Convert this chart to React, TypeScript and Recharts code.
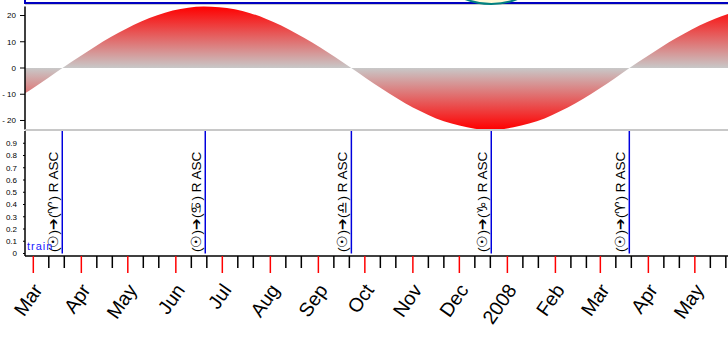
import React from "react";
import {
  AreaChart,
  Area,
  ComposedChart,
  ScatterChart,
  Scatter,
  XAxis,
  YAxis,
  ReferenceLine,
} from "recharts";

// x values are days counted from 2007-03-01
const DOMAIN: [number, number] = [-5.36, 448.4];

// solar declination (deg), every 10 days
const declDays = [
  -10, 0, 10, 20, 30, 40, 50, 60, 70, 80, 90, 100, 110, 120, 130, 140, 150, 160,
  170, 180, 190, 200, 210, 220, 230, 240, 250, 260, 270, 280, 290, 300, 310, 320,
  330, 340, 350, 360, 370, 380, 390, 400, 410, 420, 430, 440, 450, 460,
];
const declValues = [
  -11.3, -7.6, -3.6, 0.5, 4.4, 8.2, 11.8, 15.0, 17.8, 20.1, 21.9, 23.0, 23.4,
  23.2, 22.4, 20.9, 18.8, 16.2, 13.1, 9.7, 6.0, 2.1, -1.9, -6.0, -9.8, -13.4,
  -16.5, -19.2, -21.2, -22.6, -23.4, -23.4, -22.6, -21.2, -19.2, -16.5, -13.4,
  -9.9, -6.1, -2.0, 2.1, 5.9, 9.7, 13.1, 16.2, 18.8, 20.9, 22.4,
];

// month starts (red ticks) and the 11th / 21st of each month (black ticks)
const monthDays = [0, 31, 61, 92, 122, 153, 184, 214, 245, 275, 306, 337, 366, 397, 427];
const monthLabels = [
  "Mar", "Apr", "May", "Jun", "Jul", "Aug", "Sep", "Oct", "Nov", "Dec",
  "2008", "Feb", "Mar", "Apr", "May",
];
const minorDays = [
  10, 20, 41, 51, 71, 81, 102, 112, 132, 142, 163, 173, 194, 204, 224, 234,
  255, 265, 285, 295, 316, 326, 347, 357, 376, 386, 407, 417, 437, 447,
];

// sun entering the cardinal signs
const eventDays = [18.7, 111.0, 205.3, 295.6, 384.7];
const eventSigns = ["\u2648", "\u264B", "\u264E", "\u2651", "\u2648"];

const upperTicks = [-20, -10, 0, 10, 20];
const lowerTicks = [0, 0.1, 0.2, 0.3, 0.4, 0.5, 0.6, 0.7, 0.8, 0.9];

const declData = declDays.map((d, i) => ({ day: d, decl: declValues[i] }));
const events = eventDays.map((d, i) => ({ day: d, sign: eventSigns[i], v: 0 }));
const topMarker = [{ day: eventDays[3], y: 1 }];

const FONT = "'Liberation Sans', Arial, sans-serif";

function MonthTick(props: any) {
  const { x, y, payload } = props;
  const idx = monthDays.indexOf(payload.value);
  const major = idx >= 0;
  const lx = x + 10;
  const ly = y + 34;
  return (
    <g>
      <line
        x1={x}
        y1={y}
        x2={x}
        y2={y + (major ? 17 : 12)}
        stroke={major ? "#ff0000" : "#000"}
        strokeWidth={1.5}
      />
      {major && (
        <text
          x={lx}
          y={ly}
          textAnchor="end"
          fontSize={19.5}
          fontFamily={FONT}
          fill="#000"
          transform={`rotate(-55 ${lx} ${ly})`}
        >
          {monthLabels[idx]}
        </text>
      )}
    </g>
  );
}

function EventLabel(props: any) {
  const { viewBox, sign } = props;
  if (!viewBox) return null;
  const bx = viewBox.x - 4.5;
  const by = viewBox.y + viewBox.height - 1.5;
  return (
    <text
      x={bx}
      y={by}
      fontSize={13.5}
      fontFamily={FONT}
      fill="#000"
      textAnchor="start"
      transform={`rotate(-90 ${bx} ${by})`}
    >
      {`(\u2609\uFE0E)\u2794(${sign}\uFE0E) R ASC`}
    </text>
  );
}

export default function App() {
  return (
    <div
      style={{
        position: "absolute",
        left: 0,
        top: 0,
        width: 728,
        height: 355,
        background: "#fff",
        overflow: "hidden",
        fontFamily: FONT,
      }}
    >
      {/* bottom edge of the panel above */}
      <div style={{ position: "absolute", left: 24, top: 0, width: 1.5, height: 3, background: "#0000c0" }} />
      <div style={{ position: "absolute", left: 24, top: 2, width: 704, height: 1.5, background: "#0000c0" }} />
      <div style={{ position: "absolute", left: 25, top: 4, width: 703, height: 1, background: "#c8c8c8" }} />
      <div style={{ position: "absolute", left: 0, top: 0 }}>
        <ScatterChart width={728} height={5} margin={{ top: 0, right: 0, bottom: 0, left: 25 }}>
          <XAxis dataKey="day" type="number" domain={DOMAIN} allowDataOverflow hide />
          <YAxis dataKey="y" type="number" domain={[0, 1]} hide />
          <Scatter
            data={topMarker}
            isAnimationActive={false}
            shape={(p: any) => (
              <circle cx={p.cx} cy={p.cy - 64} r={68} fill="#fffad8" stroke="#008080" strokeWidth={2} />
            )}
          />
        </ScatterChart>
      </div>

      {/* declination panel */}
      <div style={{ position: "absolute", left: 0, top: 0 }}>
        <AreaChart width={728} height={131} data={declData} margin={{ top: 6.5, right: 0, bottom: 1.5, left: 0 }}>
          <defs>
            <linearGradient id="declFill" x1="0" y1="0" x2="0" y2="1">
              <stop offset="0%" stopColor="#ff0000" />
              <stop offset="50%" stopColor="#c8c8c8" />
              <stop offset="100%" stopColor="#ff0000" />
            </linearGradient>
          </defs>
          <XAxis dataKey="day" type="number" domain={DOMAIN} allowDataOverflow hide />
          <YAxis
            width={25}
            type="number"
            domain={[-23.44, 23.44]}
            ticks={upperTicks}
            interval={0}
            tickSize={5}
            tickMargin={4}
            axisLine={{ stroke: "#000", strokeWidth: 1.5 }}
            tickLine={{ stroke: "#000" }}
            tick={{ fontSize: 8, fill: "#000", fontFamily: FONT }}
            tickFormatter={(v: number) => (v < 0 ? `-\u00A0${Math.abs(v)}` : `${v}`)}
          />
          <Area
            type="monotone"
            dataKey="decl"
            baseValue={0}
            stroke="none"
            fill="url(#declFill)"
            fillOpacity={1}
            isAnimationActive={false}
          />
        </AreaChart>
      </div>
      <div style={{ position: "absolute", left: 25, top: 129, width: 703, height: 1.5, background: "#c8c8c8" }} />

      {/* ingress panel with date axis */}
      <div style={{ position: "absolute", left: 0, top: 126 }}>
        <ComposedChart width={728} height={229} data={events} margin={{ top: 5, right: 0, bottom: 0, left: 0 }}>
          <XAxis
            dataKey="day"
            type="number"
            domain={DOMAIN}
            allowDataOverflow
            ticks={[...monthDays, ...minorDays].sort((a, b) => a - b)}
            interval={0}
            height={99}
            tickSize={0}
            tickMargin={0}
            tickLine={false}
            axisLine={{ stroke: "#000", strokeWidth: 1.5 }}
            tick={(p: any) => <MonthTick {...p} />}
          />
          <YAxis
            dataKey="v"
            width={25}
            type="number"
            domain={[0, 1]}
            ticks={lowerTicks}
            interval={0}
            padding={{ top: 0, bottom: 2.5 }}
            tickSize={2}
            tickMargin={6}
            axisLine={{ stroke: "#000", strokeWidth: 1.5 }}
            tickLine={{ stroke: "#000" }}
            tick={{ fontSize: 8, fill: "#000", fontFamily: FONT }}
          />
          <Scatter dataKey="v" isAnimationActive={false} shape={() => <g />} />
          {events.map((e, i) => (
            <ReferenceLine
              key={i}
              segment={[
                { x: e.day, y: 0 },
                { x: e.day, y: 1 },
              ]}
              stroke="#0000dd"
              strokeWidth={1.5}
              label={<EventLabel sign={e.sign} />}
            />
          ))}
        </ComposedChart>
      </div>
      <div
        style={{
          position: "absolute",
          left: 27,
          top: 241,
          fontSize: 11,
          lineHeight: "11px",
          letterSpacing: 1,
          color: "#2020ff",
          fontFamily: FONT,
        }}
      >
        train
      </div>
    </div>
  );
}
